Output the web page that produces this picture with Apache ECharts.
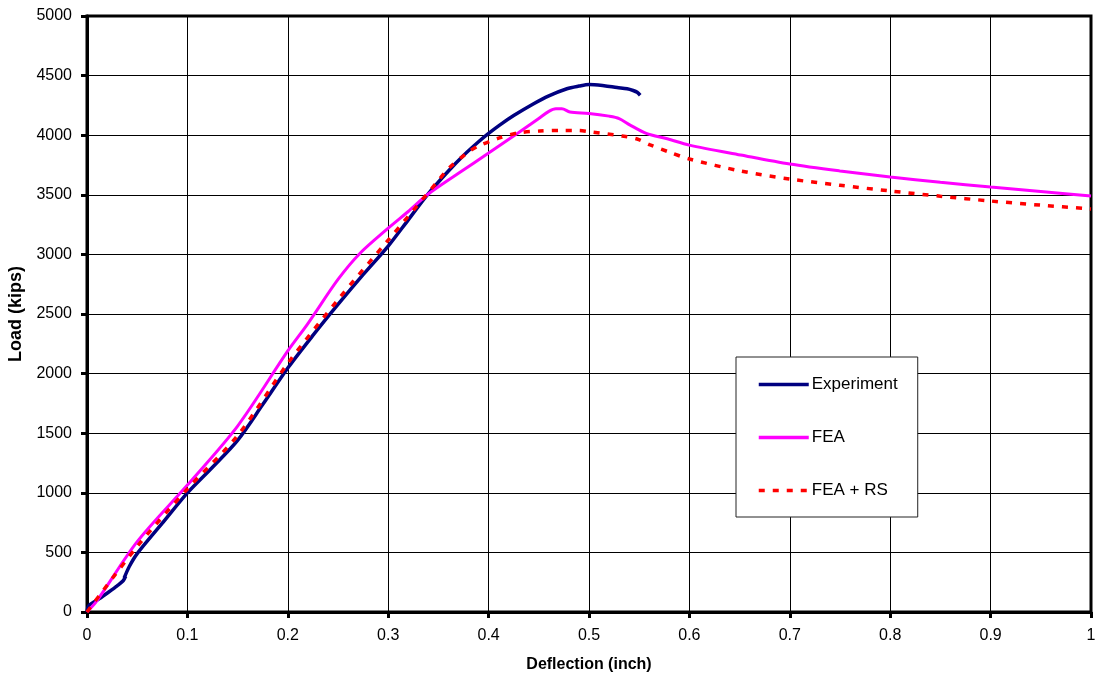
<!DOCTYPE html>
<html>
<head>
<meta charset="utf-8">
<script src="https://cdn.jsdelivr.net/npm/echarts@6/dist/echarts.min.js"></script>
<style>
  html, body { margin: 0; padding: 0; background: #fff; }
  #chart { width: 1096px; height: 678px; }
</style>
</head>
<body>
<div id="chart"></div>
<script>
// Load–deflection curves: test record and two finite-element predictions
const seriesNames = ['Experiment', 'FEA', 'FEA + RS'];

const expDeflection = [0, 0.002, 0.012, 0.022, 0.03, 0.036, 0.0385, 0.037, 0.042, 0.05, 0.075, 0.1, 0.125, 0.15, 0.175, 0.2, 0.225, 0.25, 0.275, 0.3, 0.32, 0.339, 0.36, 0.375, 0.39, 0.4, 0.411, 0.425, 0.444, 0.46, 0.478, 0.49, 0.5, 0.515, 0.528, 0.538, 0.544, 0.548, 0.551];
const expLoad       = [0, 55, 110, 170, 220, 262, 300, 285, 380, 490, 745, 1000, 1215, 1440, 1740, 2047, 2320, 2580, 2830, 3070, 3290, 3500, 3700, 3830, 3945, 4015, 4085, 4165, 4260, 4330, 4390, 4412, 4425, 4415, 4400, 4390, 4375, 4360, 4335];

const feaDeflection = [0, 0.01, 0.05, 0.1, 0.15, 0.2, 0.22, 0.25, 0.272, 0.3, 0.32, 0.339, 0.37, 0.4, 0.43, 0.45, 0.46, 0.467, 0.473, 0.481, 0.5, 0.52, 0.53, 0.541, 0.557, 0.578, 0.6, 0.651, 0.7, 0.75, 0.8, 0.85, 0.9, 0.95, 1.0];
const feaLoad       = [0, 95, 590, 1065, 1560, 2190, 2420, 2790, 3010, 3220, 3360, 3500, 3680, 3850, 4022, 4140, 4200, 4222, 4222, 4195, 4183, 4160, 4140, 4085, 4016, 3970, 3917, 3834, 3758, 3700, 3650, 3605, 3565, 3528, 3490];

const rsDeflection = [0, 0.05, 0.1, 0.15, 0.2, 0.25, 0.3, 0.35, 0.36, 0.38, 0.39, 0.41, 0.43, 0.451, 0.475, 0.49, 0.5, 0.533, 0.548, 0.561, 0.58, 0.6, 0.651, 0.7, 0.75, 0.8, 0.85, 0.9, 0.95, 1.0];
const rsLoad       = [0, 550, 1032, 1480, 2086, 2620, 3120, 3620, 3720, 3860, 3910, 3975, 4020, 4035, 4040, 4040, 4030, 3993, 3968, 3918, 3858, 3800, 3700, 3632, 3580, 3532, 3488, 3448, 3413, 3381];

const yTicks = [0, 500, 1000, 1500, 2000, 2500, 3000, 3500, 4000, 4500, 5000];

const pairs = (xs, ys) => xs.map((x, i) => [x, ys[i]]);

const FONT = 'Liberation Sans, Arial, sans-serif';
const chart = echarts.init(document.getElementById('chart'), null, { renderer: 'canvas' });

chart.setOption({
  animation: false,
  backgroundColor: '#fff',
  grid: {
    left: 87, right: 5, top: 16, bottom: 66,
    outerBoundsMode: 'none',
    containLabel: false,
    show: true, borderColor: '#000', borderWidth: 3, backgroundColor: 'transparent'
  },
  legend: {
    orient: 'vertical',
    left: 736, top: 357,
    padding: [19, 20, 18, 21],
    itemWidth: 50, itemHeight: 14, itemGap: 36,
    backgroundColor: '#fff',
    borderColor: '#222', borderWidth: 1,
    // line-only keys: hide the marker that line series put on their legend icon
    itemStyle: { color: 'transparent', borderColor: 'transparent', borderWidth: 0, opacity: 0 },
    lineStyle: { width: 3.5 },
    textStyle: { fontFamily: FONT, fontSize: 17, color: '#000', padding: [0, 0, 0, -2] },
    data: seriesNames
  },
  xAxis: {
    type: 'value', min: 0, max: 1, interval: 0.1,
    name: 'Deflection (inch)', nameLocation: 'middle', nameGap: 53,
    nameTextStyle: { fontFamily: FONT, fontSize: 16, fontWeight: 'bold', color: '#000', verticalAlign: 'middle' },
    axisLine: { lineStyle: { color: '#000', width: 3 } },
    axisTick: { show: true, length: 6, lineStyle: { color: '#000', width: 3 } },
    axisLabel: { fontFamily: FONT, fontSize: 16, color: '#000', margin: 16 },
    splitLine: { show: true, lineStyle: { color: '#000', width: 1 } }
  },
  yAxis: {
    type: 'value', min: yTicks[0], max: yTicks[yTicks.length - 1], interval: yTicks[1] - yTicks[0],
    name: 'Load (kips)', nameLocation: 'middle', nameGap: 67,
    nameTextStyle: { fontFamily: FONT, fontSize: 18, fontWeight: 'bold', color: '#000', verticalAlign: 'middle' },
    axisLine: { show: true, lineStyle: { color: '#000', width: 3 } },
    axisTick: { show: true, length: 6, lineStyle: { color: '#000', width: 3 } },
    axisLabel: { fontFamily: FONT, fontSize: 16, color: '#000', margin: 15, formatter: v => String(v) },
    splitLine: { show: true, lineStyle: { color: '#000', width: 1 } }
  },
  series: [
    {
      name: seriesNames[0], type: 'line', symbol: 'none', smooth: 0.3,
      lineStyle: { color: '#000080', width: 3.5 }, itemStyle: { color: '#000080' },
      data: pairs(expDeflection, expLoad), z: 2
    },
    {
      name: seriesNames[1], type: 'line', symbol: 'none', smooth: 0.3,
      lineStyle: { color: '#FF00FF', width: 3 }, itemStyle: { color: '#FF00FF' },
      data: pairs(feaDeflection, feaLoad), z: 3
    },
    {
      name: seriesNames[2], type: 'line', symbol: 'none', smooth: 0.3,
      lineStyle: { color: '#FF0000', width: 3.5, type: [6, 8] }, itemStyle: { color: '#FF0000' },
      data: pairs(rsDeflection, rsLoad), z: 4
    }
  ]
});
</script>
</body>
</html>
